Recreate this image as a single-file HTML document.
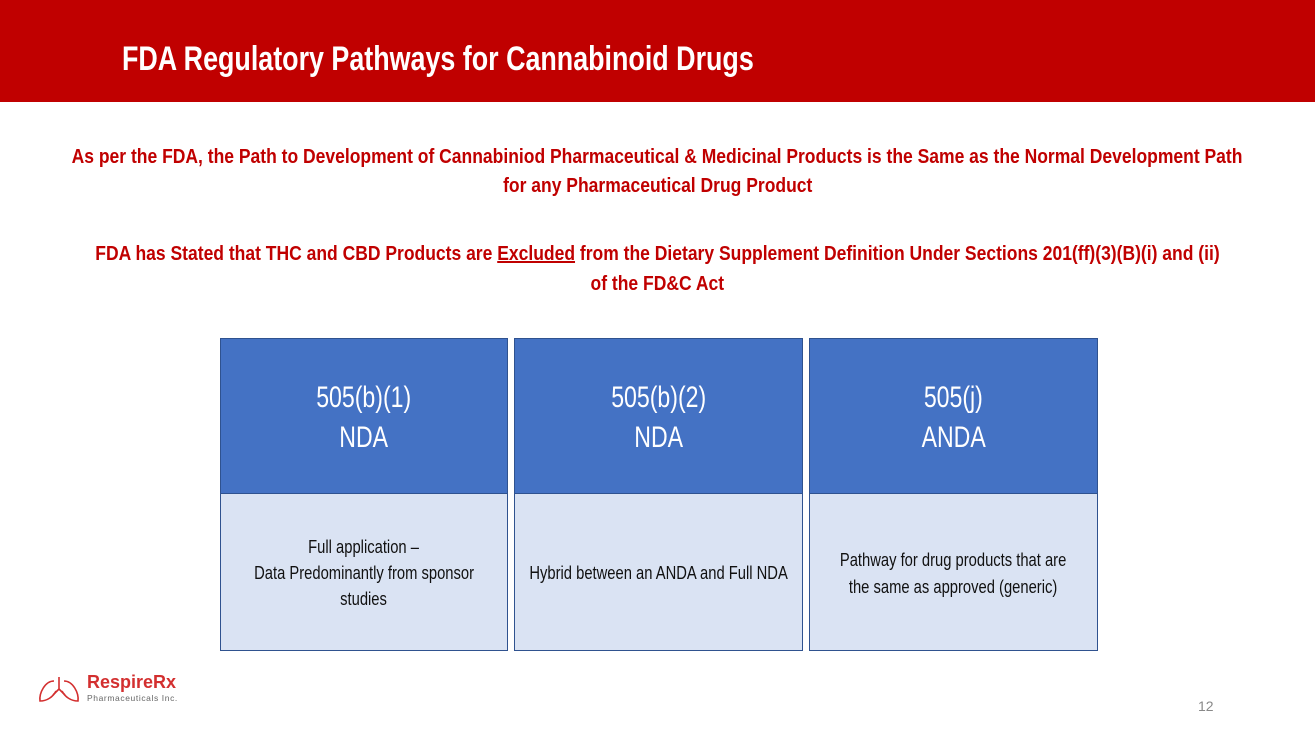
<!DOCTYPE html>
<html><head><meta charset="utf-8"><style>
body{margin:0;width:1315px;height:739px;background:#fff;position:relative;overflow:hidden;font-family:"Liberation Sans",sans-serif}
.hdr{position:absolute;left:0;top:0;width:1315px;height:102px;background:#c00000}
.title{position:absolute;left:122px;top:40px;color:#fff;font-weight:bold;font-size:34px;white-space:nowrap;transform:scaleX(0.79);transform-origin:left center}
.ln{position:absolute;left:-300px;width:1915px;text-align:center;white-space:nowrap}
.ln span{display:inline-block}
.red{color:#c00000;font-weight:bold;font-size:20px;line-height:29px}
.red span{transform:scaleX(0.875)}
.box{position:absolute;border:1px solid #2f528f;box-sizing:border-box}
.top{background:#4472c4}
.bot{background:#dae3f3}
.hl,.bl{position:absolute;left:-100px;width:calc(100% + 200px);text-align:center;white-space:nowrap}
.hl{color:#fff;font-size:30px;line-height:40px}
.hl span,.bl span{display:inline-block;transform:scaleX(0.77)}
.bl{color:#111;font-size:18px;line-height:26px}
.bl span{transform:scaleX(0.82)}
</style></head><body>
<div class="hdr"></div>
<div class="title">FDA Regulatory Pathways for Cannabinoid Drugs</div>
<div class="ln red" style="top:143px"><span>As per the FDA, the Path to Development of Cannabiniod Pharmaceutical &amp; Medicinal Products is the Same as the Normal Development Path</span></div>
<div class="ln red" style="top:172px"><span>for any Pharmaceutical Drug Product</span></div>
<div class="ln red" style="top:240px"><span>FDA has Stated that THC and CBD Products are <u>Excluded</u> from the Dietary Supplement Definition Under Sections 201(ff)(3)(B)(i) and (ii)</span></div>
<div class="ln red" style="top:270px"><span>of the FD&amp;C Act</span></div>

<div class="box top" style="left:220px;top:338px;width:288px;height:156px"><div class="hl" style="top:39px"><span>505(b)(1)</span></div><div class="hl" style="top:79px"><span>NDA</span></div></div>
<div class="box top" style="left:514px;top:338px;width:289px;height:156px"><div class="hl" style="top:39px"><span>505(b)(2)</span></div><div class="hl" style="top:79px"><span>NDA</span></div></div>
<div class="box top" style="left:809px;top:338px;width:289px;height:156px"><div class="hl" style="top:39px"><span>505(j)</span></div><div class="hl" style="top:79px"><span>ANDA</span></div></div>

<div class="box bot" style="left:220px;top:493px;width:288px;height:158px"><div class="bl" style="top:40px"><span>Full application –</span></div><div class="bl" style="top:66px"><span>Data Predominantly from sponsor</span></div><div class="bl" style="top:92px"><span>studies</span></div></div>
<div class="box bot" style="left:514px;top:493px;width:289px;height:158px"><div class="bl" style="top:66px"><span>Hybrid between an ANDA and Full NDA</span></div></div>
<div class="box bot" style="left:809px;top:493px;width:289px;height:158px"><div class="bl" style="top:53px"><span>Pathway for drug products that are</span></div><div class="bl" style="top:80px"><span>the same as approved (generic)</span></div></div>

<svg style="position:absolute;left:37px;top:675px" width="45" height="30" viewBox="0 0 45 30">
<g fill="none" stroke="#d32f2f" stroke-width="1.6">
<path d="M22 2 V14 M22 14 L16 20 M22 14 L28 20"/>
<path d="M17 6 C8 6 2 18 3 26 C10 26 16 22 19 16"/>
<path d="M27 6 C36 6 42 18 41 26 C34 26 28 22 25 16"/>
</g></svg>
<div style="position:absolute;left:87px;top:672px;color:#d32f2f;font-weight:bold;font-size:18px">RespireRx</div>
<div style="position:absolute;left:87px;top:693px;color:#666;font-size:8.5px;letter-spacing:0.6px">Pharmaceuticals Inc.</div>
<div style="position:absolute;left:1198px;top:698px;color:#888;font-size:14px">12</div>
</body></html>
